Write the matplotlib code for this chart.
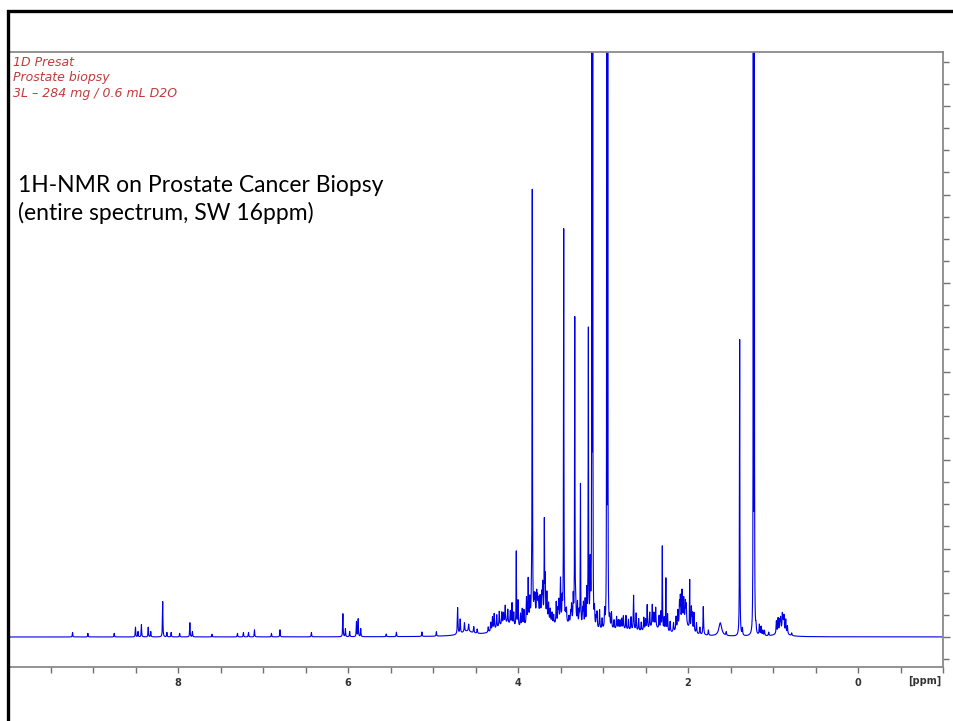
import numpy as np
import matplotlib
matplotlib.use("Agg")
import matplotlib.pyplot as plt
from matplotlib.patches import Rectangle
from matplotlib.ticker import MultipleLocator, FixedLocator

W, H = 954, 721

# peak tables: ppm position, height (1 unit = one major y tick)
arom_ppm = [9.24, 9.06, 8.75, 8.50, 8.47, 8.43, 8.35, 8.32, 8.18, 8.13, 8.08, 7.98,
            7.86, 7.83, 7.60, 7.30, 7.23, 7.17, 7.10, 6.90, 6.80, 6.43, 6.06, 6.03,
            5.98, 5.90, 5.88, 5.85, 5.55, 5.43, 5.13, 4.96]
arom_h = [0.05, 0.04, 0.04, 0.11, 0.06, 0.14, 0.11, 0.06, 0.40, 0.05, 0.05, 0.04,
          0.16, 0.06, 0.03, 0.04, 0.05, 0.05, 0.08, 0.04, 0.08, 0.05, 0.26, 0.09,
          0.06, 0.17, 0.20, 0.09, 0.03, 0.05, 0.05, 0.05]

# tall singlets in the metabolite region
tall_ppm = [4.02, 3.832, 3.69, 3.462, 3.332, 3.265, 3.172, 2.302, 2.26, 1.98, 1.392]
tall_h = [0.85, 4.80, 1.05, 4.45, 3.45, 1.60, 3.35, 0.95, 0.60, 0.55, 3.35]

# crowded small lines between 4.8 and 0.75 ppm
grass_ppm = [4.71, 4.68, 4.63, 4.58, 4.52, 4.48, 4.35, 4.32, 4.30, 4.28, 4.25, 4.22,
             4.19, 4.17, 4.15, 4.12, 4.09, 4.07, 4.05, 4.00, 3.97, 3.95, 3.93, 3.90,
             3.88, 3.86, 3.84, 3.81, 3.80, 3.78, 3.77, 3.76, 3.74, 3.72, 3.71, 3.68,
             3.66, 3.64, 3.62, 3.60, 3.58, 3.55, 3.53, 3.52, 3.50, 3.48, 3.44, 3.43,
             3.40, 3.38, 3.37, 3.35, 3.32, 3.30, 3.28, 3.24, 3.23, 3.21, 3.19, 3.15,
             3.10, 3.08, 3.07, 3.04, 3.01, 2.98, 2.92, 2.90, 2.87, 2.84, 2.82, 2.80,
             2.78, 2.76, 2.73, 2.70, 2.67, 2.64, 2.61, 2.58, 2.55, 2.52, 2.50, 2.48,
             2.45, 2.42, 2.40, 2.38, 2.34, 2.32, 2.28, 2.24, 2.21, 2.17, 2.14, 2.12,
             2.10, 2.09, 2.07, 2.05, 2.03, 2.02, 1.96, 1.95, 1.93, 1.90, 1.86, 1.82,
             1.76, 1.55, 1.36, 1.20, 1.16, 1.14, 1.12, 1.10, 1.05, 0.96, 0.94, 0.92,
             0.91, 0.89, 0.88, 0.87, 0.85, 0.83, 0.78]
grass_h = [0.30, 0.16, 0.10, 0.08, 0.07, 0.05, 0.06, 0.10, 0.15, 0.18, 0.15, 0.17,
           0.14, 0.12, 0.20, 0.16, 0.15, 0.25, 0.15, 0.30, 0.15, 0.20, 0.18, 0.30,
           0.50, 0.25, 0.30, 0.20, 0.22, 0.25, 0.18, 0.16, 0.20, 0.22, 0.35, 0.45,
           0.30, 0.20, 0.15, 0.12, 0.10, 0.25, 0.15, 0.25, 0.50, 0.25, 0.10, 0.15,
           0.08, 0.12, 0.20, 0.30, 0.20, 0.25, 0.15, 0.18, 0.25, 0.30, 0.40, 0.70,
           0.20, 0.12, 0.18, 0.22, 0.12, 0.20, 0.12, 0.18, 0.10, 0.14, 0.10, 0.10,
           0.12, 0.15, 0.16, 0.12, 0.15, 0.40, 0.20, 0.14, 0.10, 0.15, 0.12, 0.28,
           0.18, 0.25, 0.15, 0.22, 0.15, 0.20, 0.15, 0.20, 0.12, 0.10, 0.15, 0.20,
           0.25, 0.30, 0.35, 0.25, 0.22, 0.20, 0.25, 0.18, 0.22, 0.12, 0.08, 0.32,
           0.06, 0.04, 0.08, 0.08, 0.12, 0.10, 0.06, 0.06, 0.04, 0.14, 0.16, 0.12,
           0.14, 0.18, 0.14, 0.17, 0.15, 0.09, 0.03]

# off-scale singlets, drawn as close pairs
big_ppm = [3.131, 3.121, 2.956, 2.944, 1.232, 1.220]
big_h = [12.0, 12.0, 12.0, 12.0, 12.0, 12.0]

# broad humps under the crowded region
hump_ppm = [4.60, 4.15, 3.75, 3.40, 2.80, 2.40, 2.05, 1.62, 0.90]
hump_h = [0.05, 0.12, 0.20, 0.10, 0.06, 0.08, 0.16, 0.15, 0.06]
hump_w = [0.08, 0.12, 0.12, 0.20, 0.25, 0.08, 0.06, 0.02, 0.06]


def lorentz(x, p, h, w):
    return h / (1.0 + ((x - p) / w) ** 2)


ppm = np.arange(-1.05, 10.05, 0.0005)
spec = np.zeros_like(ppm)
for p, h in zip(arom_ppm, arom_h):
    spec += lorentz(ppm, p, h, 0.003)
for p, h in zip(tall_ppm, tall_h):
    spec += lorentz(ppm, p, h, 0.0025)
for p, h in zip(grass_ppm, grass_h):
    spec += lorentz(ppm, p, h, 0.004)
for p, h in zip(big_ppm, big_h):
    spec += lorentz(ppm, p, h, 0.0015)
for p, h, w in zip(hump_ppm, hump_h, hump_w):
    spec += lorentz(ppm, p, h, w)

fig = plt.figure(figsize=(W / 100, H / 100), dpi=100)
ax = fig.add_axes([8 / W, (H - 667) / H, (943 - 8) / W, (667 - 52) / H])
ax.plot(ppm, spec, color="#0000e6", lw=0.8)
ax.set_xlim(10.0, -1.0)
ax.set_ylim(-30 / 88.5, (637 - 52) / 88.5)

for s in ax.spines.values():
    s.set_color("#8a8a8a")
    s.set_linewidth(1.3)

ax.xaxis.set_major_locator(FixedLocator([8, 6, 4, 2, 0]))
ax.xaxis.set_minor_locator(MultipleLocator(0.5))
ax.tick_params(axis="x", which="both", direction="out", length=4, width=1,
               color="#707070", labelsize=7, pad=4, labelcolor="#333333")
for lab in ax.get_xticklabels():
    lab.set_fontweight("bold")

ax.yaxis.set_major_locator(MultipleLocator(1))
ax.yaxis.set_minor_locator(MultipleLocator(0.25))
ax.yaxis.tick_right()
ax.tick_params(axis="y", which="major", direction="out", length=5, width=1,
               color="#707070", labelright=False)
ax.tick_params(axis="y", which="minor", direction="out", length=4, width=1,
               color="#707070")

fig.text(925 / W, 1 - 681 / H, "[ppm]", fontsize=7, fontweight="bold",
         color="#333333", ha="center", va="center")

red = "#c23b3b"
fig.text(13 / W, 1 - 56 / H, "1D Presat", fontsize=9, style="italic",
         color=red, va="top")
fig.text(13 / W, 1 - 71.5 / H, "Prostate biopsy", fontsize=9, style="italic",
         color=red, va="top")
fig.text(13 / W, 1 - 87 / H, "3L \u2013 284 mg / 0.6 mL D2O", fontsize=9,
         style="italic", color=red, va="top")

fig.text(18 / W, 1 - 192 / H, "1H-NMR on Prostate Cancer Biopsy",
         fontsize=16.5, family="Lato", color="black", va="baseline")
fig.text(18 / W, 1 - 220 / H, "(entire spectrum, SW 16ppm)",
         fontsize=16.5, family="Lato", color="black", va="baseline")

# slide frame (black lines at top and left)
fig.patches.append(Rectangle((8.5 / W, -0.1), 1.2, 1 - 10.5 / H + 0.1,
                             transform=fig.transFigure, fill=False,
                             edgecolor="black", linewidth=2.4, zorder=10))

fig.savefig("out.png", dpi=100)
